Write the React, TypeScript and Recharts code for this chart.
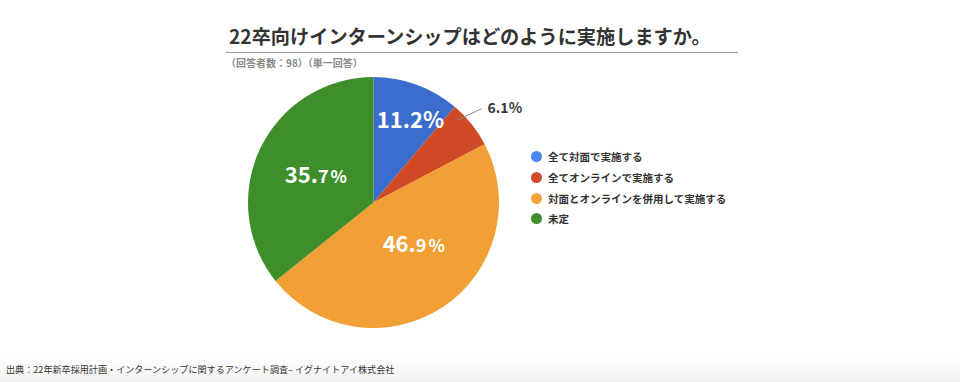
import React from "react";
import { PieChart, Pie, Cell } from "recharts";

const categories = ["全て対面で実施する", "全てオンラインで実施する", "対面とオンラインを併用して実施する", "未定"];
const shares = [11.2, 6.1, 46.9, 35.7];
const sliceColors = ["#3b6dcc", "#d04a26", "#f0a035", "#3e8f2c"];
const legendColors = ["#4a88ee", "#d14c2a", "#f2a33a", "#3d8f2e"];
const titleText = "22卒向けインターンシップはどのように実施しますか。";
const subtitleText = "（回答者数：98）（単一回答）";
const sourceText = "出典：22年新卒採用計画・インターンシップに関するアンケート調査– イグナイトアイ株式会社";

const data = categories.map((name, i) => ({ name, value: shares[i] }));

const RAD = Math.PI / 180;
const labelPlacement: Record<number, { r: number; da: number }> = {
  0: { r: 0.72, da: -4 },
  2: { r: 0.46, da: 11 },
  3: { r: 0.51, da: 0 },
};

const renderLabel = (props: any) => {
  const { cx, cy, midAngle, outerRadius, index, value } = props;
  const font = "'Noto Sans CJK JP', 'Noto Sans', sans-serif";
  if (index === 1) {
    const a1 = (midAngle + 6) * RAD;
    const a2 = (midAngle + 2.3) * RAD;
    const x1 = cx + outerRadius * 0.93 * Math.cos(a1);
    const y1 = cy - outerRadius * 0.93 * Math.sin(a1);
    const x2 = cx + outerRadius * 1.14 * Math.cos(a2);
    const y2 = cy - outerRadius * 1.14 * Math.sin(a2);
    return (
      <g>
        <line x1={x1} y1={y1} x2={x2} y2={y2} stroke="#8a8a8a" strokeWidth={1} />
        <text x={x2 + 6} y={y2 - 1} dy="0.35em" fill="#3a3a3a" fontSize={14} fontWeight={700} fontFamily={font}>
          {value.toFixed(1)}%
        </text>
      </g>
    );
  }
  const p = labelPlacement[index];
  const a = (midAngle + p.da) * RAD;
  const x = cx + outerRadius * p.r * Math.cos(a);
  const y = cy - outerRadius * p.r * Math.sin(a);
  const s = value.toFixed(1);
  const [ip, dp] = s.split(".");
  const small = index !== 0;
  return (
    <text x={x} y={y} dy="0.36em" textAnchor="middle" fill="#fff" fontWeight={700} fontFamily={font} fontSize={22}>
      <tspan>{ip}.</tspan>
      <tspan fontSize={small ? 18 : 22}>{dp}</tspan>
      <tspan fontSize={small ? 17 : 22} dx={small ? 2 : 0}>%</tspan>
    </text>
  );
};

export default function App() {
  const font = "'Noto Sans CJK JP', 'Noto Sans', sans-serif";
  return (
    <div style={{ position: "absolute", left: 0, top: 0, width: 960, height: 382, background: "#fff", fontFamily: font, overflow: "hidden" }}>
      <div style={{ position: "absolute", left: 229, top: 23, fontSize: 19.2, fontWeight: 700, color: "#333", whiteSpace: "nowrap", lineHeight: "26px" }}>
        {titleText}
      </div>
      <div style={{ position: "absolute", left: 226, top: 52, width: 512, height: 1, background: "#9a9a9a" }} />
      <div style={{ position: "absolute", left: 226, top: 56, fontSize: 10, fontWeight: 700, color: "#8a8a8a", whiteSpace: "nowrap", lineHeight: "14px" }}>
        {subtitleText}
      </div>
      <div style={{ position: "absolute", left: 0, top: 0 }}>
        <PieChart width={960} height={382} margin={{ top: 0, right: 0, bottom: 0, left: 0 }}>
          <Pie
            data={data}
            dataKey="value"
            nameKey="name"
            cx={373.5}
            cy={202.5}
            outerRadius={125.5}
            startAngle={90}
            endAngle={-270}
            stroke="none"
            isAnimationActive={false}
            labelLine={false}
            label={renderLabel}
          >
            {data.map((d, i) => (
              <Cell key={d.name} fill={sliceColors[i]} />
            ))}
          </Pie>
        </PieChart>
      </div>
      <div style={{ position: "absolute", left: 531, top: 146.5 }}>
        {categories.map((c, i) => (
          <div key={c} style={{ display: "flex", alignItems: "center", height: 20.7, whiteSpace: "nowrap" }}>
            <span style={{ display: "inline-block", width: 11, height: 11, borderRadius: "50%", background: legendColors[i], marginRight: 6 }} />
            <span style={{ fontSize: 10.5, fontWeight: 700, color: "#333" }}>{c}</span>
          </div>
        ))}
      </div>
      <div style={{ position: "absolute", left: 0, top: 356, width: 960, height: 26, background: "linear-gradient(#ffffff, #f2f2f2)" }} />
      <div style={{ position: "absolute", left: 6, top: 362, fontSize: 9.1, color: "#333", whiteSpace: "nowrap", lineHeight: "14px" }}>
        {sourceText}
      </div>
    </div>
  );
}
